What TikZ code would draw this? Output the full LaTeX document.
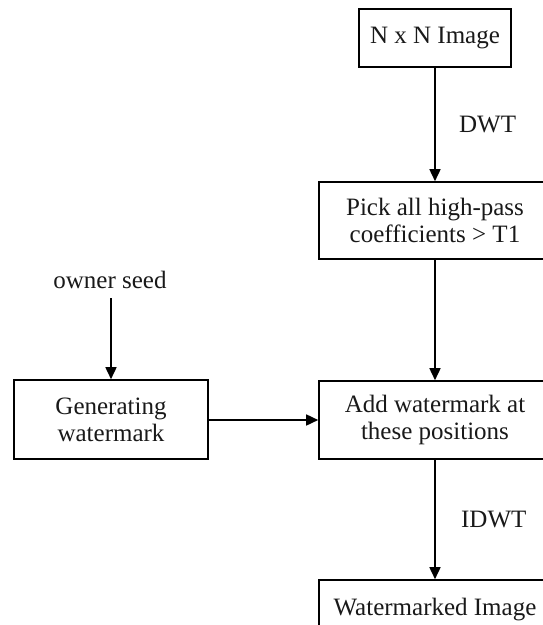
\documentclass[tikz,border=0pt]{standalone}
\usepackage{fontspec}
\setmainfont{Liberation Serif}
\usetikzlibrary{arrows.meta,calc}
\begin{document}
\begin{tikzpicture}[x=1pt,y=-1pt,
  every node/.style={font=\fontsize{25}{27}\selectfont, text=black!90},
  block/.style={draw, line width=1.6pt, align=center, inner sep=0pt},
  flow/.style={draw, line width=1.6pt, -{Triangle[length=12pt,width=11pt]}}]
  \useasboundingbox (0,0) rectangle (543,625);
  \clip (0,0) rectangle (543,625);
  \fill[white] (0,0) rectangle (543,625);

  % right-hand chain
  \node[block, minimum width=152pt, minimum height=58pt] (img)  at (435,38)    {N x N Image};
  \node[block, minimum width=232pt, minimum height=77pt] (pick) at (435,220.5) {Pick all high-pass\\coefficients > T1};
  \node[block, minimum width=232pt, minimum height=78pt] (add)  at (435,420)   {Add watermark at\\these positions};
  \node[block, minimum width=232pt, minimum height=60pt] (wm)   at (435,610)   {Watermarked Image};

  % left-hand branch
  \node (seed) at (110,280) {owner seed};
  \node[block, minimum width=194pt, minimum height=79pt] (gen) at (111,419.5) {Generating\\watermark};

  % connectors
  \draw[flow] (img) -- node[right=20pt, midway] (dwt) {DWT} (pick);
  \draw[flow] (pick) -- (add);
  \draw[flow] (add) -- node[right=22pt, midway] (idwt) {IDWT} (wm);
  \coordinate (s0) at ($(seed.south -| gen.north)+(0,6)$);
  \draw[flow] (s0) -- (gen);
  \draw[flow] (gen.east |- add.west) -- (add.west);
\end{tikzpicture}
\end{document}
